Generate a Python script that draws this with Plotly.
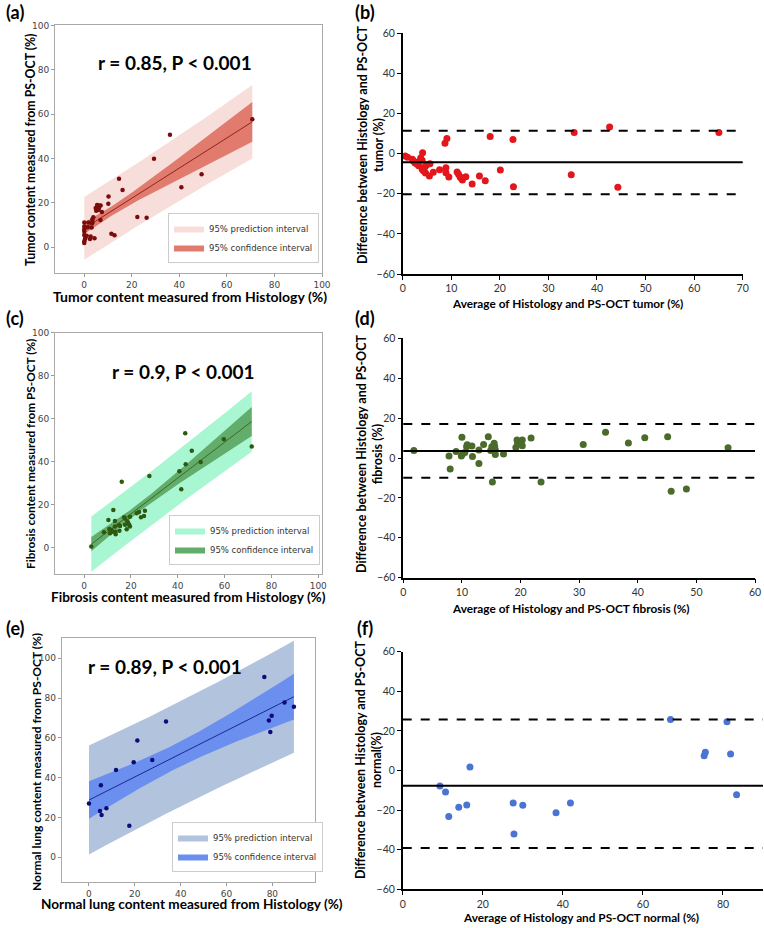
import numpy as np
import plotly.graph_objects as go

W, H = 764, 928

# ---- (a) tumor: histology vs PS-OCT ----
tumor_hist = [70.7, 36.1, 29.4, 14.7, 16.2, 10.3, 10.2, 40.9, 49.4, 22.4, 26.3, 11.5, 12.8,
              4.4, 6.2, 7.0, 5.5, 6.3, 5.1, 7.5, 3.9, 6.9, 3.5, 0.1, 1.8, 3.5, 0.1, 1.6,
              3.2, 0.1, 0.1, 1.1, 0.4, 2.8, 2.5, 0.1, 0.1, 0.6, 4.9, 6.0, 5.5, 0.1, 3.4]
tumor_oct = [57.7, 50.7, 39.9, 30.9, 25.8, 22.8, 19.6, 27.0, 32.9, 13.6, 13.2, 6.0, 5.4,
             4.0, 18.8, 18.8, 17.6, 17.6, 16.4, 15.9, 13.5, 12.2, 12.6, 11.1, 11.1, 11.4, 9.3, 9.0,
             8.8, 7.0, 5.5, 5.1, 3.7, 4.8, 3.7, 1.8, 2.6, 4.1, 17.7, 16.8, 19.0, 8.1, 10.8]

# ---- (b) tumor Bland-Altman ----
tumor_avg = [0.5, 1.0, 2.0, 2.2, 2.5, 2.9, 3.3, 3.1, 3.7, 4.1, 4.0, 4.0, 4.6, 4.9, 4.7, 5.5,
             5.6, 6.3, 7.6, 8.7, 9.1, 8.9, 8.9, 9.5, 11.2, 11.5, 11.8, 12.3, 13.0, 14.3, 15.8,
             17.0, 18.0, 20.1, 22.7, 22.8, 34.7, 35.3, 42.6, 44.3, 65.1, 12.0, 2.8, 4.3]
tumor_diff = [-1.2, -1.8, -2.8, -3.7, -4.5, -5.1, -6.0, -4.2, -2.2, 0.5, -3.3, -7.8, -6.5, -5.6,
              -9.6, -11.1, -5.0, -9.3, -8.0, 5.2, 7.5, -7.0, -9.5, -11.6, -9.1, -10.3, -11.5,
              -13.1, -11.5, -15.1, -11.1, -13.5, 8.6, -8.1, 7.0, -16.5, -10.5, 10.6, 13.3,
              -16.8, 10.5, -12.2, -4.6, -8.6]
tumor_bias, tumor_lo, tumor_hi = -4.3, -20.2, 11.4

# ---- (c) fibrosis: histology vs PS-OCT ----
fib_hist = [3.1, 71.6, 59.7, 43.2, 46.0, 49.8, 43.4, 40.7, 41.5, 27.9, 16.1, 12.5, 10.4, 13.2,
            17.1, 22.5, 23.5, 26.0, 24.3, 25.6, 8.5, 10.8, 11.7, 11.1, 13.4, 13.5, 15.1, 13.2,
            15.4, 17.5, 18.2, 18.9, 19.3, 19.6, 18.5, 17.5, 19.6, 14.9, 12.2]
fib_oct = [0.5, 47.0, 50.4, 53.2, 45.1, 39.8, 38.8, 35.5, 27.2, 33.3, 30.7, 17.5, 12.9, 12.4,
           14.1, 16.0, 16.6, 17.2, 14.1, 14.7, 7.2, 8.7, 8.2, 6.7, 7.4, 6.2, 7.9, 9.8,
           10.1, 10.6, 8.6, 11.3, 10.5, 9.8, 12.3, 13.6, 14.4, 10.5, 7.4]

# ---- (d) fibrosis Bland-Altman ----
fib_avg = [1.8, 7.8, 8.0, 9.0, 10.0, 9.9, 10.1, 10.5, 10.8, 10.9, 11.7, 11.8, 12.9, 12.9, 13.7,
           14.5, 14.9, 15.1, 15.2, 15.5, 15.6, 15.7, 15.7, 17.1, 19.2, 19.4, 19.5, 20.3, 20.3,
           21.8, 23.5, 30.7, 34.5, 38.4, 41.2, 45.1, 45.7, 48.3, 55.4]
fib_diff = [3.7, 1.0, -5.5, 3.3, 10.4, 1.0, 2.0, 2.8, 5.7, 6.7, 6.0, 0.7, 4.0, -2.7, 6.8,
            10.7, 3.7, 5.7, -12.0, 7.4, 5.7, 4.0, 1.8, 2.0, 5.3, 9.0, 7.4, 6.2, 9.0,
            10.0, -12.0, 6.8, 12.9, 7.5, 10.2, 10.7, -16.7, -15.5, 5.2]
fib_bias, fib_lo, fib_hi = 3.5, -9.9, 17.0

# ---- (e) normal lung: histology vs PS-OCT ----
norm_hist = [0.0, 5.2, 4.8, 5.5, 7.6, 11.8, 17.6, 19.5, 21.1, 27.6, 33.6, 76.5, 78.5, 79.7,
             79.1, 85.3, 89.4]
norm_oct = [27.0, 36.2, 23.2, 21.2, 24.7, 43.8, 15.8, 47.8, 58.7, 48.9, 68.2, 90.5, 68.7, 71.1,
            63.0, 77.8, 75.6]

# ---- (f) normal lung Bland-Altman ----
norm_avg = [9.3, 10.7, 11.5, 14.0, 16.0, 16.8, 27.6, 27.8, 30.0, 38.3, 41.9, 66.9, 75.3, 75.6,
            81.0, 81.9, 83.4]
norm_diff = [-7.8, -10.9, -23.2, -18.6, -17.4, 1.8, -16.4, -32.1, -17.6, -21.3, -16.4, 25.8,
             7.5, 9.2, 24.6, 8.3, -12.2]
norm_bias, norm_lo, norm_hi = -7.7, -39.2, 25.8


def t975(df):
    z = 1.959964
    return z + (z**3 + z) / (4 * df) + (5 * z**5 + 16 * z**3 + 3 * z) / (96 * df**2)


def fit_bands(x, y):
    x = np.asarray(x, float)
    y = np.asarray(y, float)
    n = len(x)
    b1, b0 = np.polyfit(x, y, 1)
    xs = np.linspace(x.min(), x.max(), 120)
    yh = b0 + b1 * xs
    s = np.sqrt(np.sum((y - (b0 + b1 * x)) ** 2) / (n - 2))
    sxx = np.sum((x - x.mean()) ** 2)
    t = t975(n - 2)
    ci = t * s * np.sqrt(1 / n + (xs - x.mean()) ** 2 / sxx)
    pi = t * s * np.sqrt(1 + 1 / n + (xs - x.mean()) ** 2 / sxx)
    return xs, yh, ci, pi


def band(xs, lo, hi):
    return np.concatenate([xs, xs[::-1]]), np.concatenate([hi, lo[::-1]])


def dom(x0, x1, y0, y1):
    return [x0 / W, x1 / W], [1 - y1 / H, 1 - y0 / H]


fig = go.Figure()

left_panels = [
    # hist, oct, pi colour, ci colour, point colour, axis suffix, legend
    (tumor_hist, tumor_oct, "#F8DEDA", "#E07B6E", "#7A0C0C", "", "legend"),
    (fib_hist, fib_oct, "#A8F7D2", "#62AD6C", "#2E5A10", "3", "legend2"),
    (norm_hist, norm_oct, "#B2C3DE", "#6A8FEE", "#0B0B7E", "5", "legend3"),
]
for hx, oy, pic, cic, ptc, ax, lg in left_panels:
    xs, yh, ci, pi = fit_bands(hx, oy)
    bx, by = band(xs, yh - pi, yh + pi)
    fig.add_trace(go.Scatter(x=bx, y=by, fill="toself", fillcolor=pic, line=dict(width=0),
                             mode="lines", name="95% prediction interval", legend=lg,
                             xaxis="x" + ax, yaxis="y" + ax, hoverinfo="skip"))
    bx, by = band(xs, yh - ci, yh + ci)
    fig.add_trace(go.Scatter(x=bx, y=by, fill="toself", fillcolor=cic, line=dict(width=0),
                             mode="lines", name="95% confidence interval", legend=lg,
                             xaxis="x" + ax, yaxis="y" + ax, hoverinfo="skip"))
    fig.add_trace(go.Scatter(x=xs, y=yh, mode="lines", line=dict(color=ptc, width=0.8),
                             showlegend=False, xaxis="x" + ax, yaxis="y" + ax))
    fig.add_trace(go.Scatter(x=hx, y=oy, mode="markers", marker=dict(color=ptc, size=4.5),
                             showlegend=False, xaxis="x" + ax, yaxis="y" + ax))

ba_panels = [
    (tumor_avg, tumor_diff, tumor_bias, tumor_lo, tumor_hi, "#E3161B", "2"),
    (fib_avg, fib_diff, fib_bias, fib_lo, fib_hi, "#4B6B2A", "4"),
    (norm_avg, norm_diff, norm_bias, norm_lo, norm_hi, "#4A74D4", "6"),
]
for av, df, bias, lo, hi, col, ax in ba_panels:
    fig.add_trace(go.Scatter(x=av, y=df, mode="markers", marker=dict(color=col, size=7),
                             showlegend=False, xaxis="x" + ax, yaxis="y" + ax))
    for val, dash in [(bias, "solid"), (lo, "dash"), (hi, "dash")]:
        fig.add_shape(type="line", xref="x" + ax + " domain", yref="y" + ax,
                      x0=0, x1=1, y0=val, y1=val, line=dict(color="black", width=2, dash=dash))

left_tick = dict(family="DejaVu Sans", size=9, color="#444")
ba_tick = dict(family="Lato", size=10.5, color="#333")


def left_axes(xd, yd, xr, yr):
    xa = dict(domain=xd, range=xr, tickvals=[0, 20, 40, 60, 80, 100], ticks="outside", ticklen=3,
              tickcolor="#999", showline=True, mirror=True, linecolor="#aaa", linewidth=1,
              showgrid=False, zeroline=False, tickfont=left_tick, automargin=False)
    ya = dict(domain=yd, range=yr, tickvals=[0, 20, 40, 60, 80, 100], ticks="outside", ticklen=3,
              tickcolor="#999", showline=True, mirror=True, linecolor="#aaa", linewidth=1,
              showgrid=False, zeroline=False, tickfont=left_tick, automargin=False)
    return xa, ya


def ba_axes(xd, yd, xr, xdt):
    xa = dict(domain=xd, range=xr, dtick=xdt, tick0=0, ticks="outside", ticklen=4, tickcolor="black",
              showline=True, linecolor="black", linewidth=1.5, showgrid=False, zeroline=False,
              tickfont=ba_tick, automargin=False)
    ya = dict(domain=yd, range=[-60, 60], dtick=20, ticks="outside", ticklen=4, tickcolor="black",
              showline=True, linecolor="black", linewidth=1.5, showgrid=False, zeroline=False,
              tickfont=ba_tick, automargin=False)
    return xa, ya


xa, ya = left_axes(*dom(55, 322, 25, 273), [-12.2, 100], [-11.7, 100.3])
xb, yb = ba_axes(*dom(402.7, 742.7, 33.3, 274), [0, 70], 10)
xc, yc = left_axes(*dom(55, 322, 332.7, 574.3), [-12.4, 101.6], [-12.4, 100])
xd, yd = ba_axes(*dom(403.3, 755, 338.3, 577.7), [0, 60], 10)
xe, ye = left_axes(*dom(61.7, 315, 638.3, 882), [-11.9, 98.6], [-12.4, 110])
xf, yf = ba_axes(*dom(402.7, 763, 651.7, 889.3), [0, 90], 20)

for i, (xx, yy) in enumerate([(xa, ya), (xb, yb), (xc, yc), (xd, yd), (xe, ye), (xf, yf)]):
    s = "" if i == 0 else str(i + 1)
    xx["anchor"] = "y" + s
    yy["anchor"] = "x" + s
    fig.layout["xaxis" + s] = xx
    fig.layout["yaxis" + s] = yy

legend_style = dict(font=dict(family="DejaVu Sans", size=8.5, color="#333"), bgcolor="white",
                    bordercolor="#ccc", borderwidth=1, itemwidth=30, xanchor="left",
                    yanchor="top", traceorder="normal", tracegroupgap=0)
fig.update_layout(
    legend=dict(x=168 / W, y=1 - 213 / H, **legend_style),
    legend2=dict(x=169 / W, y=1 - 515 / H, **legend_style),
    legend3=dict(x=172 / W, y=1 - 822 / H, **legend_style),
)

# axis titles, placed in pixels of the page
axis_titles = [
    ("Tumor content measured from Histology (%)", 190, 297, 0, 14),
    ("Tumor content measured from PS-OCT (%)", 30, 150, -90, 12.3),
    ("Fibrosis content measured from Histology (%)", 188, 597, 0, 13.6),
    ("Fibrosis content measured from PS-OCT (%)", 30, 454, -90, 11.8),
    ("Normal lung content measured from Histology (%)", 192, 904, 0, 13.6),
    ("Normal lung content measured from PS-OCT (%)", 36, 762, -90, 12),
    ("Average of Histology and PS-OCT tumor (%)", 567, 303, 0, 11.8),
    ("Difference between Histology and PS-OCT<br>tumor (%)", 370, 145, -90, 12.5),
    ("Average of Histology and PS-OCT fibrosis (%)", 571, 608, 0, 11.8),
    ("Difference between Histology and PS-OCT<br>fibrosis (%)", 369, 454, -90, 12.5),
    ("Average of Histology and PS-OCT normal (%)", 581, 917, 0, 11.8),
    ("Difference between Histology and PS-OCT<br>normal(%)", 368, 760, -90, 12.5),
]
for txt, px, py, ang, sz in axis_titles:
    fig.add_annotation(text="<b>" + txt + "</b>", x=px / W, y=1 - py / H, xref="paper",
                       yref="paper", xanchor="center", yanchor="middle", showarrow=False,
                       textangle=ang, font=dict(family="Lato", size=sz, color="black"))

# r value labels
for txt, ax, xv, yv in [("r = 0.85, P < 0.001", "", 38.4, 83.2),
                        ("r = 0.9, P < 0.001", "3", 42.3, 81.9),
                        ("r = 0.89, P < 0.001", "5", 33.1, 95.8)]:
    fig.add_annotation(text="<b>" + txt + "</b>", x=xv, y=yv, xref="x" + ax, yref="y" + ax,
                       xanchor="center", yanchor="middle", showarrow=False,
                       font=dict(family="Lato", size=19, color="black"))

# panel letters
for lab, px, py in [("(a)", 15, 12), ("(b)", 365, 12), ("(c)", 15, 318),
                    ("(d)", 365, 318), ("(e)", 15, 628), ("(f)", 365, 628)]:
    fig.add_annotation(text="<b>" + lab + "</b>", x=px / W, y=1 - py / H, xref="paper",
                       yref="paper", xanchor="center", yanchor="middle", showarrow=False,
                       font=dict(family="Lato", size=18, color="black"))

fig.update_layout(width=W, height=H,
                  margin=dict(l=0, r=0, t=0, b=0, autoexpand=False),
                  paper_bgcolor="white", plot_bgcolor="white")

# the page body has a default 8px margin; drop it so the figure fills the window
fig.write_html("out.html", config={"displayModeBar": False},
               post_script="document.body.style.margin='0';document.body.style.overflow='hidden';")
